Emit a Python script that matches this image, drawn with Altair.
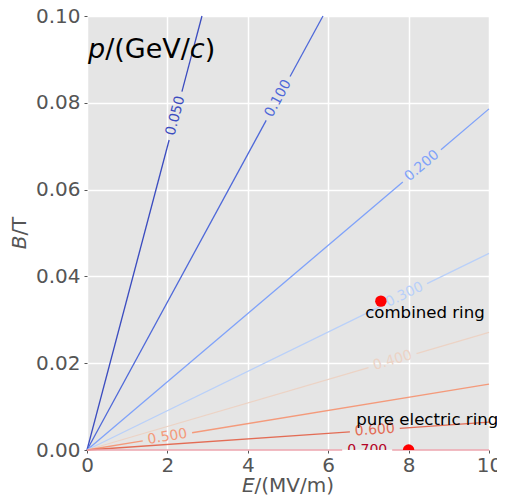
import math
import altair as alt
import pandas as pd

# ---- data ----
levels = ["0.050", "0.100", "0.200", "0.300", "0.400", "0.500", "0.600", "0.700"]
end_E = [2.86, 5.87, 10.0, 10.0, 10.0, 10.0, 10.0, 10.0]          # MV/m, end of each contour
end_B = [0.100, 0.100, 0.0786, 0.0453, 0.0271, 0.0152, 0.0064, 0.0]  # T, end of each contour
label_frac = [0.77, 0.81, 0.833, 0.79, 0.76, 0.20, 0.716, 0.697]    # label position along contour
label_colors = ["#3b4cc0", "#4f69d9", "#7fa2fa", "#b9d0f9", "#ecd3c5", "#f49a7b", "#e36c55", "#b40426"]
line_colors = ["#3b4cc0", "#4f69d9", "#7fa2fa", "#b9d0f9", "#ecd3c5", "#f49a7b", "#e36c55", "#eca5ae"]

ring_names = ["combined ring", "pure electric ring"]
ring_E = [7.31, 8.0]
ring_B = [0.0343, 0.0]
ring_text_E = [6.92, 6.70]
ring_text_B = [0.0303, 0.00575]

x_ticks = [0, 2, 4, 6, 8, 10]
y_ticks = [0.0, 0.02, 0.04, 0.06, 0.08, 0.10]

# ---- layout ----
W, H = 402, 434
XMAX, YMAX = 10.0, 0.10
GAP_PX = 25

seg_rows, lab_rows = [], []
for i, lev in enumerate(levels):
    dx = end_E[i] * W / XMAX
    dy = end_B[i] * H / YMAX
    L = math.hypot(dx, dy)
    g = GAP_PX / L
    f = label_frac[i]
    for s, (t0, t1) in enumerate([(0.0, f - g), (f + g, 1.0)]):
        for t in (t0, t1):
            seg_rows.append({"key": f"{lev}-{s}", "E": t * end_E[i], "B": t * end_B[i],
                             "c": line_colors[i]})
    ang = math.degrees(math.atan2(dy, dx))
    lab_rows.append({"lab": lev, "E": f * end_E[i], "B": f * end_B[i],
                     "ang": (360 - ang) % 360, "c": label_colors[i]})

segs = pd.DataFrame(seg_rows)
labs = pd.DataFrame(lab_rows)
rings = pd.DataFrame({"name": ring_names, "E": ring_E, "B": ring_B,
                      "tE": ring_text_E, "tB": ring_text_B})

FONT = "DejaVu Sans"
GREY = "#555555"

xscale = alt.Scale(domain=[0, XMAX], nice=False, zero=False)
yscale = alt.Scale(domain=[0, YMAX], nice=False, zero=False)
xaxis = alt.Axis(values=x_ticks, format="d", title=None, grid=True, gridColor="white",
                 gridWidth=1.5, domain=False, tickColor=GREY, tickSize=3, labelFontSize=20,
                 labelColor=GREY, labelFont=FONT, labelPadding=2, labelFlush=False,
                 labelOverlap=False)
yaxis = alt.Axis(values=y_ticks, format=".2f", title=None, grid=True, gridColor="white",
                 gridWidth=1.5, domain=False, tickColor=GREY, tickSize=3, labelFontSize=20,
                 labelColor=GREY, labelFont=FONT, labelPadding=4, labelFlush=False,
                 labelOverlap=False)

lines = alt.Chart(segs).mark_line(strokeWidth=1.3).encode(
    x=alt.X("E:Q", scale=xscale, axis=xaxis),
    y=alt.Y("B:Q", scale=yscale, axis=yaxis),
    detail="key:N",
    color=alt.Color("c:N", scale=None),
)

labels = alt.Chart(labs).mark_text(fontSize=14, font=FONT, align="center",
                                   baseline="middle", clip=True).encode(
    x=alt.X("E:Q", scale=xscale),
    y=alt.Y("B:Q", scale=yscale),
    text="lab:N",
    angle=alt.Angle("ang:Q", scale=None),
    color=alt.Color("c:N", scale=None),
)

points = alt.Chart(rings).mark_circle(size=130, color="#ff0000", opacity=1, clip=True).encode(
    x=alt.X("E:Q", scale=xscale),
    y=alt.Y("B:Q", scale=yscale),
)

ring_text = alt.Chart(rings).mark_text(fontSize=16.6, font=FONT, align="left",
                                       baseline="alphabetic", color="black").encode(
    x=alt.X("tE:Q", scale=xscale),
    y=alt.Y("tB:Q", scale=yscale),
    text="name:N",
)


def txt(s, x, y, size, italic=False, angle=0, color=GREY):
    return alt.Chart(pd.DataFrame({"t": [s]})).mark_text(
        align="left", baseline="alphabetic", fontSize=size, font=FONT,
        fontStyle="italic" if italic else "normal", angle=angle, color=color,
    ).encode(x=alt.value(x), y=alt.value(y), text="t:N")


# title p/(GeV/c)
ts = 27
ty = 42
t_p = txt("p", 1, ty, ts, italic=True, color="black")
t_a = txt("/(GeV/", 1 + 0.635 * ts, ty, ts, color="black")
t_c = txt("c", 1 + (0.635 + 3.138) * ts, ty, ts, italic=True, color="black")
t_b = txt(")", 1 + (0.635 + 3.138 + 0.55) * ts, ty, ts, color="black")

# x title E/(MV/m)
fs = 20
xw = (0.632 + 3.975) * fs
x0 = W / 2 - xw / 2
xt1 = txt("E", x0, 476, fs, italic=True)
xt2 = txt("/(MV/m)", x0 + 0.632 * fs, 476, fs)

# y title B/T (rotated)
yw = (0.686 + 0.948) * fs
y0 = H / 2 + yw / 2
yt1 = txt("B", -61, y0, fs, italic=True, angle=270)
yt2 = txt("/T", -61, y0 - 0.686 * fs, fs, angle=270)

chart = alt.layer(
    lines, labels, points, ring_text, t_p, t_a, t_c, t_b, xt1, xt2, yt1, yt2
).properties(
    width=W, height=H,
    autosize=alt.AutoSizeParams(type="none"),
    padding={"left": 79, "top": 8, "right": 8, "bottom": 46},
).configure_view(fill="#e5e5e5", strokeWidth=0)

chart.save("out.html", embed_options={"renderer": "svg", "actions": False})
